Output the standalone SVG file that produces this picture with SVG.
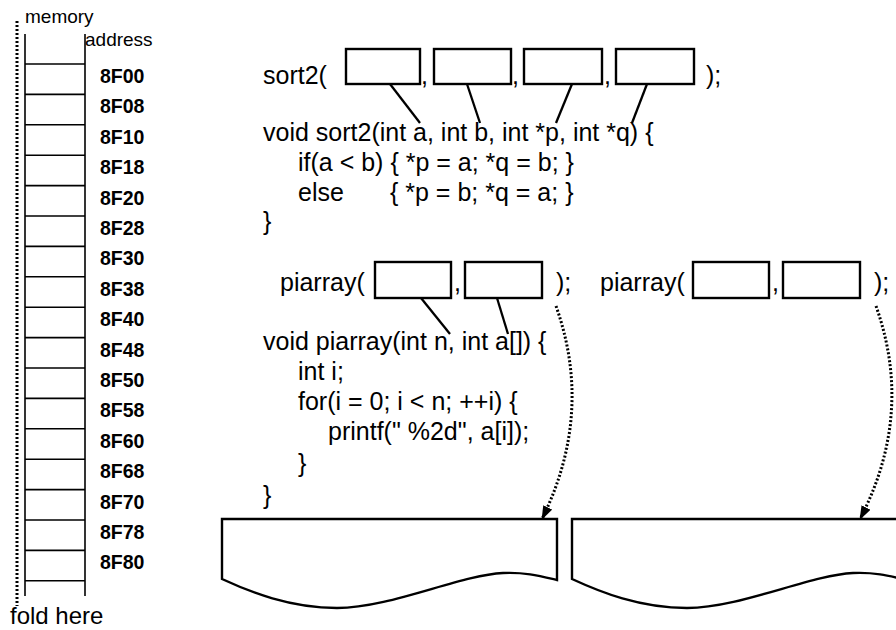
<svg xmlns="http://www.w3.org/2000/svg" width="896" height="630" viewBox="0 0 896 630">
  <defs>
    <style>
      .code { font-family: "Liberation Sans", Arial, sans-serif; font-size: 25px; fill: #000; }
      .fold { font-family: "Liberation Sans", Arial, sans-serif; font-size: 24px; fill: #000; }
      .lbl { font-family: "Liberation Sans", Arial, sans-serif; font-size: 19px; fill: #000; }
      .addr { font-family: "Liberation Sans", Arial, sans-serif; font-size: 19.5px; font-weight: bold; fill: #000; }
      .box { fill: #fff; stroke: #000; stroke-width: 2.4; }
      .thin { stroke: #000; stroke-width: 1.6; fill: none; }
      .conn { stroke: #000; stroke-width: 2.3; fill: none; }
      .dot { stroke: #000; stroke-width: 3; fill: none; stroke-dasharray: 2 2; }
      .paper { fill: #fff; stroke: #000; stroke-width: 2.4; }
    </style>
    <marker id="ah" viewBox="0 0 14 10" refX="13" refY="5" markerWidth="14" markerHeight="10" markerUnits="userSpaceOnUse" orient="auto">
      <path d="M0,0 L14,5 L0,10 z" fill="#000"/>
    </marker>
  </defs>

  <g id="memory">
    <line x1="17" y1="21" x2="17" y2="606" class="dot"/>
    <text x="25" y="23" class="lbl">memory</text>
    <text x="85" y="46" class="lbl">address</text>
    <line x1="25" y1="34" x2="25" y2="596" class="thin"/>
    <line x1="85" y1="34" x2="85" y2="596" class="thin"/>
    <g class="thin">
      <line x1="25" y1="64" x2="85" y2="64"/>
      <line x1="25" y1="94.4" x2="85" y2="94.4"/>
      <line x1="25" y1="124.8" x2="85" y2="124.8"/>
      <line x1="25" y1="155.2" x2="85" y2="155.2"/>
      <line x1="25" y1="185.6" x2="85" y2="185.6"/>
      <line x1="25" y1="216" x2="85" y2="216"/>
      <line x1="25" y1="246.4" x2="85" y2="246.4"/>
      <line x1="25" y1="276.8" x2="85" y2="276.8"/>
      <line x1="25" y1="307.2" x2="85" y2="307.2"/>
      <line x1="25" y1="337.6" x2="85" y2="337.6"/>
      <line x1="25" y1="368" x2="85" y2="368"/>
      <line x1="25" y1="398.4" x2="85" y2="398.4"/>
      <line x1="25" y1="428.8" x2="85" y2="428.8"/>
      <line x1="25" y1="459.2" x2="85" y2="459.2"/>
      <line x1="25" y1="489.6" x2="85" y2="489.6"/>
      <line x1="25" y1="520" x2="85" y2="520"/>
      <line x1="25" y1="550.4" x2="85" y2="550.4"/>
      <line x1="25" y1="580.8" x2="85" y2="580.8"/>
    </g>
    <g class="addr">
      <text x="100" y="83">8F00</text>
      <text x="100" y="113.4">8F08</text>
      <text x="100" y="143.8">8F10</text>
      <text x="100" y="174.2">8F18</text>
      <text x="100" y="204.6">8F20</text>
      <text x="100" y="235">8F28</text>
      <text x="100" y="265.4">8F30</text>
      <text x="100" y="295.8">8F38</text>
      <text x="100" y="326.2">8F40</text>
      <text x="100" y="356.6">8F48</text>
      <text x="100" y="387">8F50</text>
      <text x="100" y="417.4">8F58</text>
      <text x="100" y="447.8">8F60</text>
      <text x="100" y="478.2">8F68</text>
      <text x="100" y="508.6">8F70</text>
      <text x="100" y="539">8F78</text>
      <text x="100" y="569.4">8F80</text>
    </g>
    <text x="10" y="624" class="fold">fold here</text>
  </g>

  <g id="sort2-call">
    <text x="263" y="84" class="code">sort2(</text>
    <rect x="346" y="49" width="74" height="35" class="box"/>
    <text x="421" y="84" class="code">,</text>
    <rect x="434" y="49" width="77" height="35" class="box"/>
    <text x="512" y="84" class="code">,</text>
    <rect x="524" y="49" width="78" height="35" class="box"/>
    <text x="604" y="84" class="code">,</text>
    <rect x="616" y="49" width="78" height="35" class="box"/>
    <text x="706" y="84" class="code">);</text>
  </g>

  <g id="sort2-def">
    <text x="263" y="141" class="code">void sort2(int a, int b, int *p, int *q) {</text>
    <text x="298" y="171" class="code">if(a &lt; b) { *p = a; *q = b; }</text>
    <text x="298" y="201" class="code">else</text>
    <text x="390" y="201" class="code">{ *p = b; *q = a; }</text>
    <text x="263" y="230" class="code">}</text>
  </g>

  <g id="piarray-call-1">
    <text x="280" y="291" class="code">piarray(</text>
    <rect x="375" y="262" width="76" height="36" class="box"/>
    <text x="454" y="291" class="code">,</text>
    <rect x="465" y="262" width="77" height="36" class="box"/>
    <text x="556" y="291" class="code">);</text>
  </g>

  <g id="piarray-call-2">
    <text x="600" y="291" class="code">piarray(</text>
    <rect x="693" y="262" width="76" height="36" class="box"/>
    <text x="772" y="291" class="code">,</text>
    <rect x="783" y="262" width="77" height="36" class="box"/>
    <text x="874" y="291" class="code">);</text>
  </g>

  <g id="piarray-def">
    <text x="263" y="350" class="code">void piarray(int n, int a[]) {</text>
    <text x="298" y="380" class="code">int i;</text>
    <text x="298" y="410" class="code">for(i = 0; i &lt; n; ++i) {</text>
    <text x="328" y="440" class="code">printf(" %2d", a[i]);</text>
    <text x="298" y="472" class="code">}</text>
    <text x="263" y="504" class="code">}</text>
  </g>

  <g id="output-1">
    <path class="paper" d="M222,519 H557 V580 C540,576 525,572 503,573 C460,575 390,608 337,608 C290,608 250,592 222,579 Z"/>
  </g>
  <g id="output-2">
    <path class="paper" d="M572,519 H907 V580 C890,576 875,572 853,573 C810,575 740,608 687,608 C640,608 600,592 572,579 Z"/>
  </g>

  <g id="connectors">
    <line x1="390" y1="84" x2="420" y2="123" class="conn"/>
    <line x1="467" y1="84" x2="480" y2="123" class="conn"/>
    <line x1="572" y1="84" x2="556" y2="123" class="conn"/>
    <line x1="647" y1="84" x2="632" y2="123" class="conn"/>
    <line x1="421" y1="298" x2="450" y2="334" class="conn"/>
    <line x1="497" y1="298" x2="508" y2="334" class="conn"/>
    <path d="M556,306 C578,368 581,440 542,519" class="dot" marker-end="url(#ah)"/>
    <path d="M876,306 C898,368 901,440 860,519" class="dot" marker-end="url(#ah)"/>
  </g>
</svg>
